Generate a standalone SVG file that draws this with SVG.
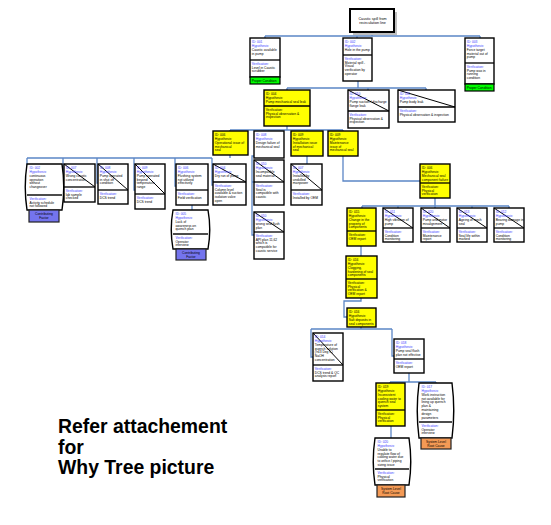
<svg xmlns="http://www.w3.org/2000/svg" width="551" height="525" viewBox="0 0 551 525">
<style>
.n{fill:#fff;stroke:#000;stroke-width:1.4}
.y{fill:#ff0;stroke:#000;stroke-width:1.4}
.dv{stroke:#000;stroke-width:1.3}
.bd{stroke:#111;stroke-width:1.5}
.dg{stroke:#000;stroke-width:1}
.cn path{fill:none;stroke:#5b86c6;stroke-width:1.3}
text{font-family:"Liberation Sans",Arial,sans-serif;font-size:3.3px;fill:#000}
.l{fill:#3d3dff}
.g{fill:#00ff00;stroke:#000;stroke-width:1.2}
.p{fill:#7474ee;stroke:#222;stroke-width:1.2}
.o{fill:#f49a55;stroke:#222;stroke-width:1.2}
.m{text-anchor:middle}
.big{font-size:19.4px;font-weight:bold}
.rt{font-size:3.7px}
</style>
<rect width="551" height="525" fill="#fff"/>
<g class="cn" id="connectors">
<path d="M372,32V36M265,36H480M265,36V38M357,36V38M480,36V38"/>
<path d="M358,81V88M287,88H426M287,88V90M368,88V90M426,88V90"/>
<path d="M287,126V130M230,130H343M230,130V131M269,130V131M307,130V131M343,130V131"/>
<path d="M230,155V158M27,158H212M27,158V166M63,158V183H64M97,158V183H98M134,158V190H135M175,158V186H176M212,158V185H213"/>
<path d="M192,205V210"/>
<path d="M254,156H252V235H254M252,182H254"/>
<path d="M307,156V164"/>
<path d="M343,156V181H420"/>
<path d="M435,198V206M362,206H509M362,206V208M398,206V208M435,206V208M472,206V208M509,206V208"/>
<path d="M361,246V256"/>
<path d="M361,298V301H344V317H347"/>
<path d="M361,327V329M311,329H392M311,329V357H313M392,329V356H394"/>
<path d="M409,373V382M390,382H436M390,382V383M436,382V383"/>
<path d="M391,426V438"/>
</g>
<g id="root"><rect x="353" y="12" width="44" height="23" fill="#bfbfbf"/><rect x="350" y="9" width="44" height="23" fill="#fff" stroke="#000" stroke-width="2"/><text class="m rt"><tspan x="372.5" y="19.8">Caustic spill from</tspan><tspan x="372.5" y="24">recirculation line</tspan></text></g>
<g id="n001"><rect class="n" x="250" y="38" width="30" height="39"/><line class="dv" x1="250" y1="60" x2="280" y2="60"/><rect class="g" x="250" y="77" width="30" height="7"/><text><tspan class="l" x="251.8" y="42.8">ID: 001</tspan><tspan class="l" x="251.8" y="46.7">Hypothesis:</tspan><tspan x="251.8" y="50.6">Caustic available</tspan><tspan x="251.8" y="54.5">in pump</tspan><tspan class="l" x="251.8" y="64.6">Verification:</tspan><tspan x="251.8" y="68.5">Level in Caustic</tspan><tspan x="251.8" y="72.4">scrubber</tspan><tspan x="251.8" y="81.6">Proper Condition</tspan></text></g>
<g id="n002"><rect class="n" x="343" y="38" width="29" height="43"/><line class="dv" x1="343" y1="55" x2="372" y2="55"/><text><tspan class="l" x="344.8" y="42.8">ID: 002</tspan><tspan class="l" x="344.8" y="46.7">Hypothesis:</tspan><tspan x="344.8" y="50.6">Hole in the pump</tspan><tspan class="l" x="344.8" y="59.6">Verification:</tspan><tspan x="344.8" y="63.5">Material spill -</tspan><tspan x="344.8" y="67.4">Visual</tspan><tspan x="344.8" y="71.3">verification by</tspan><tspan x="344.8" y="75.2">operator</tspan></text></g>
<g id="n003"><rect class="n" x="465" y="38" width="29" height="46"/><line class="dv" x1="465" y1="63" x2="494" y2="63"/><rect class="g" x="465" y="84" width="29" height="7"/><text><tspan class="l" x="466.8" y="42.8">ID: 003</tspan><tspan class="l" x="466.8" y="46.7">Hypothesis:</tspan><tspan x="466.8" y="50.6">Force target</tspan><tspan x="466.8" y="54.5">material out of</tspan><tspan x="466.8" y="58.4">pump</tspan><tspan class="l" x="466.8" y="67.6">Verification:</tspan><tspan x="466.8" y="71.5">Pump was in</tspan><tspan x="466.8" y="75.4">running</tspan><tspan x="466.8" y="79.3">condition</tspan><tspan x="466.8" y="88.6">Proper Condition</tspan></text></g>
<g id="n004"><rect class="y" x="264" y="90" width="46" height="36"/><line class="dv" x1="264" y1="106" x2="310" y2="106"/><text><tspan x="265.8" y="94.8">ID: 004</tspan><tspan x="265.8" y="98.7">Hypothesis:</tspan><tspan x="265.8" y="102.6">Pump mechanical seal leak</tspan><tspan x="265.8" y="110.6">Verification:</tspan><tspan x="265.8" y="114.5">Physical observation &amp;</tspan><tspan x="265.8" y="118.4">inspection</tspan></text></g>
<g id="n010"><rect class="n" x="348" y="90" width="41" height="38"/><line class="dv" x1="348" y1="111" x2="389" y2="111"/><line class="dg" x1="348" y1="90" x2="389" y2="111"/><text><tspan class="l" x="349.6" y="94.8">ID: 010</tspan><tspan class="l" x="349.6" y="98.7">Hypothesis:</tspan><tspan x="349.6" y="102.6">Pump suction / discharge</tspan><tspan x="349.6" y="106.5">flange leak</tspan><tspan class="l" x="349.6" y="115.6">Verification:</tspan><tspan x="349.6" y="119.5">Physical observation &amp;</tspan><tspan x="349.6" y="123.4">inspection</tspan></text></g>
<g id="n011"><rect class="n" x="398" y="90" width="57" height="32"/><line class="dv" x1="398" y1="107" x2="455" y2="107"/><line class="dg" x1="398" y1="90" x2="455" y2="107"/><text><tspan class="l" x="399.8" y="94.8">ID: 011</tspan><tspan class="l" x="399.8" y="98.7">Hypothesis:</tspan><tspan x="399.8" y="102.6">Pump body leak</tspan><tspan class="l" x="399.8" y="111.6">Verification:</tspan><tspan x="399.8" y="115.5">Physical observation &amp; inspection</tspan></text></g>
<g id="n006op"><rect class="y" x="213" y="131" width="35" height="24"/><text><tspan x="214.8" y="135.8">ID: 006</tspan><tspan x="214.8" y="139.7">Hypothesis:</tspan><tspan x="214.8" y="143.6">Operational issue of</tspan><tspan x="214.8" y="147.5">mechanical</tspan><tspan x="214.8" y="151.4">seal</tspan></text></g>
<g id="n008d"><rect class="n" x="254" y="131" width="30" height="27"/><text><tspan class="l" x="255.8" y="135.8">ID: 008</tspan><tspan class="l" x="255.8" y="139.7">Hypothesis:</tspan><tspan x="255.8" y="143.6">Design failure of</tspan><tspan x="255.8" y="147.5">mechanical seal</tspan></text></g>
<g id="n009i"><rect class="y" x="291" y="131" width="32" height="25"/><text><tspan x="292.8" y="135.8">ID: 009</tspan><tspan x="292.8" y="139.7">Hypothesis:</tspan><tspan x="292.8" y="143.6">Installation issue</tspan><tspan x="292.8" y="147.5">of mechanical</tspan><tspan x="292.8" y="151.4">seal</tspan></text></g>
<g id="n009m"><rect class="y" x="328" y="131" width="30" height="25"/><text><tspan x="329.8" y="135.8">ID: 009</tspan><tspan x="329.8" y="139.7">Hypothesis:</tspan><tspan x="329.8" y="143.6">Maintenance</tspan><tspan x="329.8" y="147.5">issue of</tspan><tspan x="329.8" y="151.4">mechanical seal</tspan></text></g>
<g id="b002"><path class="n" d="M27,164H62Q65.5,187 62,210H27Q23.5,187 27,164Z"/><line class="bd" x1="27" y1="195" x2="62" y2="195"/><rect class="p" x="29" y="210" width="30" height="12"/><text><tspan class="l" x="29.5" y="168.8">ID: 002</tspan><tspan class="l" x="29.5" y="172.7">Hypothesis:</tspan><tspan x="29.5" y="176.6">continuous</tspan><tspan x="29.5" y="180.5">operation</tspan><tspan x="29.5" y="184.4">without</tspan><tspan x="29.5" y="188.3">changeover</tspan><tspan class="l" x="29.5" y="199.6">Verification:</tspan><tspan x="29.5" y="203.5">Activity schedule</tspan><tspan x="29.5" y="207.4">not followed</tspan></text><text class="m"><tspan x="44" y="215.3">Contributing</tspan><tspan x="44" y="219.4">Factor</tspan></text></g>
<g id="n007"><rect class="n" x="64" y="164" width="31" height="38"/><line class="dv" x1="64" y1="187" x2="95" y2="187"/><line class="dg" x1="64" y1="164" x2="95" y2="187"/><text><tspan class="l" x="65.8" y="168.8">ID: 007</tspan><tspan class="l" x="65.8" y="172.7">Hypothesis:</tspan><tspan x="65.8" y="176.6">Wrong caustic</tspan><tspan x="65.8" y="180.5">concentration</tspan><tspan class="l" x="65.8" y="191.6">Verification:</tspan><tspan x="65.8" y="195.5">lab sample</tspan><tspan x="65.8" y="199.4">checked</tspan></text></g>
<g id="n008s"><rect class="n" x="98" y="164" width="30" height="40"/><line class="dv" x1="98" y1="190" x2="128" y2="190"/><line class="dg" x1="98" y1="164" x2="128" y2="190"/><text><tspan class="l" x="99.8" y="168.8">ID: 008</tspan><tspan class="l" x="99.8" y="172.7">Hypothesis:</tspan><tspan x="99.8" y="176.6">Pump operated</tspan><tspan x="99.8" y="180.5">in shut off</tspan><tspan x="99.8" y="184.4">condition</tspan><tspan class="l" x="99.8" y="194.6">Verification:</tspan><tspan x="99.8" y="198.5">DCS trend</tspan></text></g>
<g id="n009t"><rect class="n" x="135" y="164" width="30" height="45"/><line class="dv" x1="135" y1="194" x2="165" y2="194"/><line class="dg" x1="135" y1="164" x2="165" y2="194"/><text><tspan class="l" x="136.8" y="168.8">ID: 009</tspan><tspan class="l" x="136.8" y="172.7">Hypothesis:</tspan><tspan x="136.8" y="176.6">Pump operated</tspan><tspan x="136.8" y="180.5">beyond</tspan><tspan x="136.8" y="184.4">temperature</tspan><tspan x="136.8" y="188.3">range</tspan><tspan class="l" x="136.8" y="198.6">Verification:</tspan><tspan x="136.8" y="202.5">DCS trend</tspan></text></g>
<g id="n006f"><rect class="n" x="176" y="164" width="32" height="41"/><line class="dv" x1="176" y1="190" x2="208" y2="190"/><text><tspan class="l" x="177.8" y="168.8">ID: 006</tspan><tspan class="l" x="177.8" y="172.7">Hypothesis:</tspan><tspan x="177.8" y="176.6">Flushing system</tspan><tspan x="177.8" y="180.5">not utilized</tspan><tspan x="177.8" y="184.4">effectively</tspan><tspan class="l" x="177.8" y="194.6">Verification:</tspan><tspan x="177.8" y="198.5">Field verification</tspan></text></g>
<g id="n004d"><rect class="n" x="213" y="164" width="33" height="41"/><line class="dv" x1="213" y1="182" x2="246" y2="182"/><line class="dg" x1="213" y1="164" x2="246" y2="182"/><text><tspan class="l" x="214.8" y="168.8">ID: 004</tspan><tspan class="l" x="214.8" y="172.7">Hypothesis:</tspan><tspan x="214.8" y="176.6">Dry run of pump</tspan><tspan class="l" x="214.8" y="186.6">Verification:</tspan><tspan x="214.8" y="190.5">Column level</tspan><tspan x="214.8" y="194.4">available &amp; suction</tspan><tspan x="214.8" y="198.3">isolation valve</tspan><tspan x="214.8" y="202.2">open</tspan></text></g>
<g id="b005"><path class="n" d="M173,210H208Q211.5,229.5 208,249H173Q169.5,229.5 173,210Z"/><line class="bd" x1="173" y1="234" x2="208" y2="234"/><rect class="p" x="176" y="249" width="30" height="11"/><text><tspan class="l" x="175.5" y="214.8">ID: 005</tspan><tspan class="l" x="175.5" y="218.7">Hypothesis:</tspan><tspan x="175.5" y="222.6">Lack of</tspan><tspan x="175.5" y="226.5">awareness on</tspan><tspan x="175.5" y="230.4">quench plan</tspan><tspan class="l" x="175.5" y="238.6">Verification:</tspan><tspan x="175.5" y="242.5">Operator</tspan><tspan x="175.5" y="246.4">interview</tspan></text><text class="m"><tspan x="191" y="253.8">Contributing</tspan><tspan x="191" y="257.9">Factor</tspan></text></g>
<g id="n010s"><rect class="n" x="254" y="160" width="30" height="45"/><line class="dv" x1="254" y1="182" x2="284" y2="182"/><line class="dg" x1="254" y1="160" x2="284" y2="182"/><text><tspan class="l" x="255.8" y="164.8">ID: 010</tspan><tspan class="l" x="255.8" y="168.7">Hypothesis:</tspan><tspan x="255.8" y="172.6">Incompatible</tspan><tspan x="255.8" y="176.5">seal material</tspan><tspan class="l" x="255.8" y="186.6">Verification:</tspan><tspan x="255.8" y="190.5">Seal is</tspan><tspan x="255.8" y="194.4">compatible with</tspan><tspan x="255.8" y="198.3">caustic</tspan></text></g>
<g id="n010f"><rect class="n" x="254" y="212" width="30" height="47"/><line class="dv" x1="254" y1="232" x2="284" y2="232"/><line class="dg" x1="254" y1="212" x2="284" y2="232"/><text><tspan class="l" x="255.8" y="216.8">ID: 010</tspan><tspan class="l" x="255.8" y="220.7">Hypothesis:</tspan><tspan x="255.8" y="224.6">wrong seal flush</tspan><tspan x="255.8" y="228.5">plan</tspan><tspan class="l" x="255.8" y="236.6">Verification:</tspan><tspan x="255.8" y="240.5">API plan 11,62</tspan><tspan x="255.8" y="244.4">which is</tspan><tspan x="255.8" y="248.3">compatible for</tspan><tspan x="255.8" y="252.2">caustic service</tspan></text></g>
<g id="n007u"><rect class="n" x="291" y="164" width="31" height="41"/><line class="dv" x1="291" y1="190" x2="322" y2="190"/><line class="dg" x1="291" y1="164" x2="322" y2="190"/><text><tspan class="l" x="292.8" y="168.8">ID: 007</tspan><tspan class="l" x="292.8" y="172.7">Hypothesis:</tspan><tspan x="292.8" y="176.6">Installed by</tspan><tspan x="292.8" y="180.5">unskilled</tspan><tspan x="292.8" y="184.4">manpower</tspan><tspan class="l" x="292.8" y="194.6">Verification:</tspan><tspan x="292.8" y="198.5">Installed by OEM</tspan></text></g>
<g id="n006m"><rect class="y" x="420" y="164" width="30" height="34"/><line class="dv" x1="420" y1="183" x2="450" y2="183"/><text><tspan x="421.8" y="168.8">ID: 006</tspan><tspan x="421.8" y="172.7">Hypothesis:</tspan><tspan x="421.8" y="176.6">Mechanical seal</tspan><tspan x="421.8" y="180.5">component failure</tspan><tspan x="421.8" y="187.6">Verification:</tspan><tspan x="421.8" y="191.5">Physical</tspan><tspan x="421.8" y="195.4">verification</tspan></text></g>
<g id="n015"><rect class="y" x="347" y="208" width="29" height="38"/><line class="dv" x1="347" y1="231" x2="376" y2="231"/><text><tspan x="348.8" y="212.8">ID: 015</tspan><tspan x="348.8" y="216.7">Hypothesis:</tspan><tspan x="348.8" y="220.6">Change in the</tspan><tspan x="348.8" y="224.5">property of</tspan><tspan x="348.8" y="228.4">components</tspan><tspan x="348.8" y="235.6">Verification:</tspan><tspan x="348.8" y="239.5">OEM report</tspan></text></g>
<g id="n011v"><rect class="n" x="383" y="208" width="30" height="34"/><line class="dv" x1="383" y1="228" x2="413" y2="228"/><line class="dg" x1="383" y1="208" x2="413" y2="228"/><text><tspan class="l" x="384.8" y="212.8">ID: 011</tspan><tspan class="l" x="384.8" y="216.7">Hypothesis:</tspan><tspan x="384.8" y="220.6">High vibration of</tspan><tspan x="384.8" y="224.5">pump</tspan><tspan class="l" x="384.8" y="232.6">Verification:</tspan><tspan x="384.8" y="236.5">Condition</tspan><tspan x="384.8" y="240.4">monitoring</tspan></text></g>
<g id="n020m"><rect class="n" x="421" y="208" width="29" height="34"/><line class="dv" x1="421" y1="228" x2="450" y2="228"/><line class="dg" x1="421" y1="208" x2="450" y2="228"/><text><tspan class="l" x="422.8" y="212.8">ID: 020</tspan><tspan class="l" x="422.8" y="216.7">Hypothesis:</tspan><tspan x="422.8" y="220.6">Pump and motor</tspan><tspan x="422.8" y="224.5">misalignment</tspan><tspan class="l" x="422.8" y="232.6">Verification:</tspan><tspan x="422.8" y="236.5">Maintenance</tspan><tspan x="422.8" y="240.4">report</tspan></text></g>
<g id="n013"><rect class="n" x="457" y="208" width="30" height="34"/><line class="dv" x1="457" y1="228" x2="487" y2="228"/><line class="dg" x1="457" y1="208" x2="487" y2="228"/><text><tspan class="l" x="458.8" y="212.8">ID: 013</tspan><tspan class="l" x="458.8" y="216.7">Hypothesis:</tspan><tspan x="458.8" y="220.6">Ageing of mech</tspan><tspan x="458.8" y="224.5">seal</tspan><tspan class="l" x="458.8" y="232.6">Verification:</tspan><tspan x="458.8" y="236.5">Seal life within</tspan><tspan x="458.8" y="240.4">marked</tspan></text></g>
<g id="n012"><rect class="n" x="494" y="208" width="30" height="34"/><line class="dv" x1="494" y1="228" x2="524" y2="228"/><line class="dg" x1="494" y1="208" x2="524" y2="228"/><text><tspan class="l" x="495.8" y="212.8">ID: 012</tspan><tspan class="l" x="495.8" y="216.7">Hypothesis:</tspan><tspan x="495.8" y="220.6">Bearing damage in</tspan><tspan x="495.8" y="224.5">pump</tspan><tspan class="l" x="495.8" y="232.6">Verification:</tspan><tspan x="495.8" y="236.5">Condition</tspan><tspan x="495.8" y="240.4">monitoring</tspan></text></g>
<g id="n016"><rect class="y" x="346" y="256" width="31" height="42"/><line class="dv" x1="346" y1="279" x2="377" y2="279"/><text><tspan x="347.8" y="260.8">ID: 016</tspan><tspan x="347.8" y="264.7">Hypothesis:</tspan><tspan x="347.8" y="268.6">Clogging,</tspan><tspan x="347.8" y="272.5">hardening of seal</tspan><tspan x="347.8" y="276.4">components</tspan><tspan x="347.8" y="283.6">Verification:</tspan><tspan x="347.8" y="287.5">Physical</tspan><tspan x="347.8" y="291.4">verification &amp;</tspan><tspan x="347.8" y="295.3">OEM report</tspan></text></g>
<g id="n017s"><rect class="y" x="347" y="308" width="29" height="19"/><text><tspan x="348.8" y="312.8">ID: 016</tspan><tspan x="348.8" y="316.7">Hypothesis:</tspan><tspan x="348.8" y="320.6">Salt deposits in</tspan><tspan x="348.8" y="324.5">seal components</tspan></text></g>
<g id="n014"><rect class="n" x="313" y="333" width="30" height="48"/><line class="dv" x1="313" y1="365" x2="343" y2="365"/><line class="dg" x1="313" y1="333" x2="343" y2="365"/><text><tspan class="l" x="314.8" y="337.8">ID: 014</tspan><tspan class="l" x="314.8" y="341.7">Hypothesis:</tspan><tspan x="314.8" y="345.6">Temperature of</tspan><tspan x="314.8" y="349.5">quench solution</tspan><tspan x="314.8" y="353.4">(&gt;43 Deg C)</tspan><tspan x="314.8" y="357.3">NaOH</tspan><tspan x="314.8" y="361.2">concentration</tspan><tspan class="l" x="314.8" y="369.6">Verification:</tspan><tspan x="314.8" y="373.5">DCS trend &amp; QC</tspan><tspan x="314.8" y="377.4">analysis report</tspan></text></g>
<g id="n018"><rect class="n" x="394" y="339" width="30" height="34"/><line class="dv" x1="394" y1="359" x2="424" y2="359"/><text><tspan class="l" x="395.8" y="343.8">ID: 018</tspan><tspan class="l" x="395.8" y="347.7">Hypothesis:</tspan><tspan x="395.8" y="351.6">Pump seal flush</tspan><tspan x="395.8" y="355.5">plan not effective</tspan><tspan class="l" x="395.8" y="363.6">Verification:</tspan><tspan x="395.8" y="367.5">OEM report</tspan></text></g>
<g id="n019"><rect class="y" x="376" y="383" width="29" height="43"/><line class="dv" x1="376" y1="410" x2="405" y2="410"/><text><tspan x="377.8" y="387.8">ID: 019</tspan><tspan x="377.8" y="391.7">Hypothesis:</tspan><tspan x="377.8" y="395.6">Inconsistent</tspan><tspan x="377.8" y="399.5">cooling water to</tspan><tspan x="377.8" y="403.4">quench seal</tspan><tspan x="377.8" y="407.3">system</tspan><tspan x="377.8" y="414.6">Verification:</tspan><tspan x="377.8" y="418.5">Physical</tspan><tspan x="377.8" y="422.4">verification</tspan></text></g>
<g id="b017"><path class="n" d="M419,383H452Q455.5,410.5 452,438H419Q415.5,410.5 419,383Z"/><line class="bd" x1="419" y1="422" x2="452" y2="422"/><rect class="o" x="421" y="438" width="30" height="11"/><text><tspan class="l" x="421.5" y="387.8">ID: 017</tspan><tspan class="l" x="421.5" y="391.7">Hypothesis:</tspan><tspan x="421.5" y="395.6">Work instruction</tspan><tspan x="421.5" y="399.5">not available for</tspan><tspan x="421.5" y="403.4">lining up quench</tspan><tspan x="421.5" y="407.3">plan &amp;</tspan><tspan x="421.5" y="411.2">maintaining</tspan><tspan x="421.5" y="415.1">design</tspan><tspan x="421.5" y="419">parameters</tspan><tspan class="l" x="421.5" y="426.6">Verification:</tspan><tspan x="421.5" y="430.5">Operator</tspan><tspan x="421.5" y="434.4">interview</tspan></text><text class="m"><tspan x="436" y="442.6">System Level</tspan><tspan x="436" y="446.7">Root Cause</tspan></text></g>
<g id="b020"><path class="n" d="M375,438H409Q412.5,461.5 409,485H375Q371.5,461.5 375,438Z"/><line class="bd" x1="375" y1="469" x2="409" y2="469"/><rect class="o" x="377" y="485" width="28" height="12"/><text><tspan class="l" x="377.5" y="442.8">ID: 020</tspan><tspan class="l" x="377.5" y="446.7">Hypothesis:</tspan><tspan x="377.5" y="450.6">Unable to</tspan><tspan x="377.5" y="454.5">regulate flow of</tspan><tspan x="377.5" y="458.4">cooling water due</tspan><tspan x="377.5" y="462.3">to orifice / piping</tspan><tspan x="377.5" y="466.2">sizing issue</tspan><tspan class="l" x="377.5" y="473.6">Verification:</tspan><tspan x="377.5" y="477.5">Physical</tspan><tspan x="377.5" y="481.4">verification</tspan></text><text class="m"><tspan x="391" y="490">System Level</tspan><tspan x="391" y="494.4">Root Cause</tspan></text></g>
<g id="note"><text class="big" x="58" y="433">Refer attachement</text><text class="big" x="58" y="454">for</text><text class="big" x="58" y="474">Why Tree picture</text></g>
</svg>
